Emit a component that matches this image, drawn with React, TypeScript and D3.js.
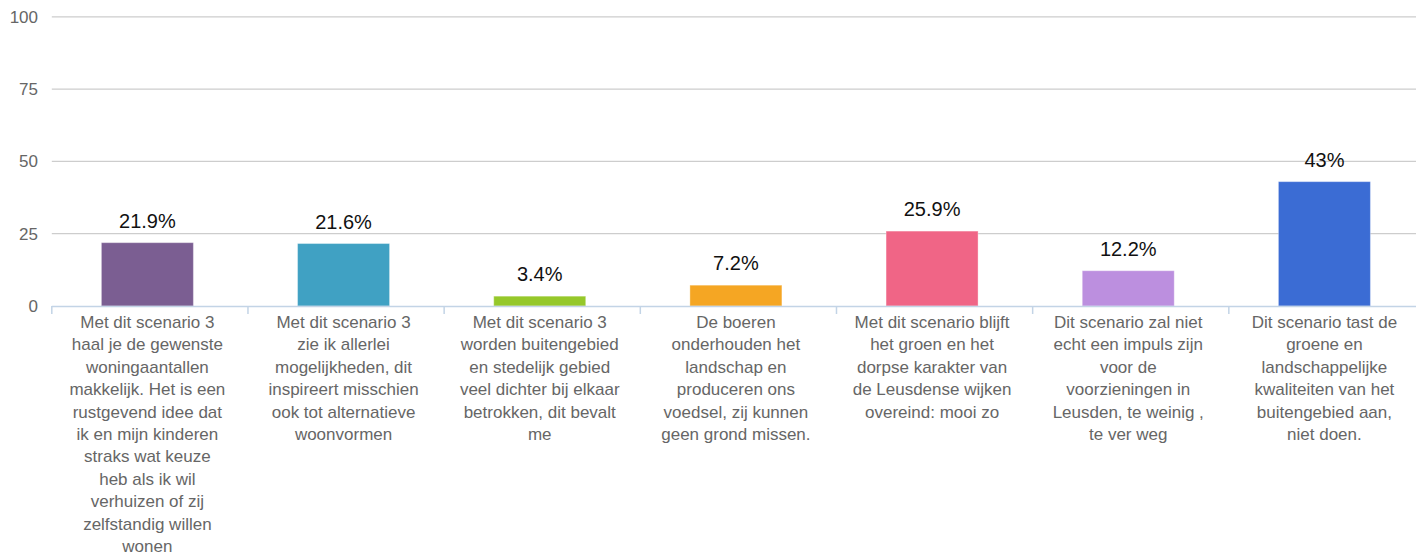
import React from "react";
import * as d3 from "d3";

const categories: string[] = [
  "Met dit scenario 3\nhaal je de gewenste\nwoningaantallen\nmakkelijk. Het is een\nrustgevend idee dat\nik en mijn kinderen\nstraks wat keuze\nheb als ik wil\nverhuizen of zij\nzelfstandig willen\nwonen",
  "Met dit scenario 3\nzie ik allerlei\nmogelijkheden, dit\ninspireert misschien\nook tot alternatieve\nwoonvormen",
  "Met dit scenario 3\nworden buitengebied\nen stedelijk gebied\nveel dichter bij elkaar\nbetrokken, dit bevalt\nme",
  "De boeren\nonderhouden het\nlandschap en\nproduceren ons\nvoedsel, zij kunnen\ngeen grond missen.",
  "Met dit scenario blijft\nhet groen en het\ndorpse karakter van\nde Leusdense wijken\novereind: mooi zo",
  "Dit scenario zal niet\necht een impuls zijn\nvoor de\nvoorzieningen in\nLeusden, te weinig ,\nte ver weg",
  "Dit scenario tast de\ngroene en\nlandschappelijke\nkwaliteiten van het\nbuitengebied aan,\nniet doen.",
];
const values: number[] = [21.9, 21.6, 3.4, 7.2, 25.9, 12.2, 43];
const valueLabels: string[] = ["21.9%", "21.6%", "3.4%", "7.2%", "25.9%", "12.2%", "43%"];
const colors: string[] = ["#7b5e92", "#40a1c3", "#96c82a", "#f5a623", "#f06586", "#bc8fdf", "#3b6cd4"];
const yTicks: number[] = [0, 25, 50, 75, 100];

const W = 1416;
const H = 554;
const font = "'Liberation Sans', Arial, Helvetica, sans-serif";

export default function App() {
  const x = d3
    .scaleBand<number>()
    .domain(values.map((_, i) => i))
    .range([51.8, 1425])
    .paddingInner(0)
    .paddingOuter(0);
  const y = d3.scaleLinear().domain([0, 100]).range([306, 16.8]);
  const bw = 92;
  const bounds = x.domain().map((i) => x(i)!).concat([1425]);

  return (
    <svg
      width={W}
      height={H}
      style={{ position: "absolute", left: 0, top: 0, background: "#fff" }}
      fontFamily={font}
    >
      {yTicks.map((t) => (
        <g key={t}>
          {t !== 0 && (
            <line x1={51.8} x2={W} y1={y(t)} y2={y(t)} stroke="#cdcdcd" strokeWidth={1.2} />
          )}
          <text x={38} y={y(t)} dy="0.35em" textAnchor="end" fontSize={17} fill="#666">
            {t}
          </text>
        </g>
      ))}
      {values.map((v, i) => {
        const cx = x(i)! + x.bandwidth() / 2 - 2.5;
        return (
          <g key={i}>
            <rect
              x={cx - bw / 2}
              y={y(v)}
              width={bw}
              height={y(0) - y(v)}
              fill={colors[i]}
              stroke="#ffffff"
              strokeOpacity={0.35}
              strokeWidth={1}
            />
            <text x={cx} y={y(v) - 15} textAnchor="middle" fontSize={20} fill="#111">
              {valueLabels[i]}
            </text>
          </g>
        );
      })}
      <line x1={51.8} x2={W} y1={y(0) + 0.5} y2={y(0) + 0.5} stroke="#c3d4e6" strokeWidth={1.5} />
      {bounds.map((b, i) => (
        <line key={i} x1={b} x2={b} y1={y(0)} y2={y(0) + 8} stroke="#c3d4e6" strokeWidth={1.5} />
      ))}
      {categories.map((c, i) => {
        const cx = x(i)! + x.bandwidth() / 2 - 2.5;
        return (
          <text key={i} textAnchor="middle" fontSize={17} fill="#666">
            {c.split("\n").map((line, j) => (
              <tspan key={j} x={cx} y={328 + j * 22.4}>
                {line}
              </tspan>
            ))}
          </text>
        );
      })}
    </svg>
  );
}
